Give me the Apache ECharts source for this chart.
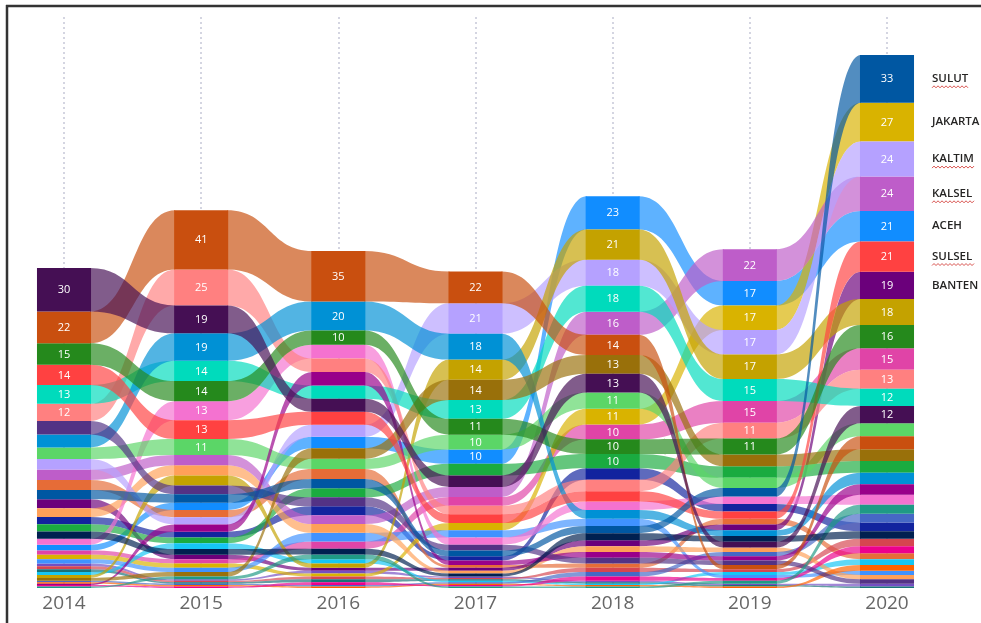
<!DOCTYPE html>
<html>
<head>
<meta charset="utf-8">
<script src="https://cdn.jsdelivr.net/npm/echarts@6/dist/echarts.min.js"></script>
<style>
  html, body { margin: 0; padding: 0; background: #fff; }
  #chart { width: 981px; height: 623px; }
</style>
</head>
<body>
<div id="chart"></div>
<script>
// ribbon chart: one column per year, provinces ranked inside each column
var years = ['2014', '2015', '2016', '2017', '2018', '2019', '2020'];

var provinces = ['ACEH', 'BABEL', 'BALI', 'BANTEN', 'BENGKULU', 'DIY', 'JAKARTA', 'GORONTALO', 'JABAR', 'JAMBI',
  'JATENG', 'JATIM', 'KALBAR', 'KALSEL', 'KALTENG', 'KALTIM', 'KALUT', 'KEPRI', 'LAMPUNG', 'MALUKU',
  'MALUT', 'NTB', 'NTT', 'PAPUA', 'PABAR', 'RIAU', 'SULBAR', 'SULSEL', 'SULTENG', 'SULTRA',
  'SULUT', 'SUMBAR', 'SUMSEL', 'SUMUT'];

var colors = ['#118DFF', '#12239E', '#E66C37', '#6B007B', '#E044A7', '#744EC2', '#D9B300', '#D64550', '#197278', '#1AAB40',
  '#15C6F4', '#4092FF', '#FFA058', '#BE5DC9', '#F472D0', '#B5A1FF', '#C4A200', '#FF8080', '#00DBBC', '#5BD667',
  '#0091D5', '#4668C5', '#FF6300', '#99008A', '#EC008C', '#533285', '#99700A', '#FF4141', '#1F9A85', '#25891C',
  '#0057A2', '#002050', '#C94F0F', '#450F54'];

// values per year, same order as provinces
var v2014 = [4, 5, 7, 6.2, 3, 2, 3, 2, 2, 5, 2, 3, 6, 7.2, 4.2, 7.4, 2, 12, 13, 8, 9, 1, 1, 1, 1, 9.2, 2, 14, 1, 15, 6.4, 5, 22, 30];
var v2015 = [5, 4, 5, 3, 3, 1, 3, 1, 1, 4, 4, 3, 7, 7.2, 13.2, 5, 7, 25, 14, 11, 19, 1, 1, 5, 1, 6, 3, 13, 2, 14, 6, 4, 41, 19.3];
var v2016 = [8, 6.2, 7, 2, 5, 2, 2, 2, 2, 6.3, 3, 6, 6.05, 6.1, 9.45, 8.2, 3, 9.4, 9.2, 7.1, 20, 1, 1, 9.3, 2, 6.25, 7.2, 9, 3.2, 10, 6.4, 4, 35, 9.1];
var v2017 = [10, 3, 2, 2, 6, 1, 5, 1, 1, 8, 1, 5, 2, 7, 5, 21, 14, 6, 13, 10.2, 18, 1, 1, 3, 1, 4, 14, 6, 1, 11, 4, 2, 22, 8];
var v2018 = [23, 8, 3, 4, 10.3, 1, 10.9, 3, 1, 9.9, 1, 5, 4, 16, 6, 18, 21, 8, 18, 11.2, 6, 3, 1, 4, 3, 4, 13, 7, 1, 10.1, 5, 5, 14, 13];
var v2019 = [17, 5.1, 4, 4, 15, 1, 17, 2, 1, 8, 2, 2, 3, 22, 5.2, 17, 17, 11, 15.2, 7, 4, 3, 1, 3, 2, 3, 8.2, 5, 2, 11, 6, 4, 3, 4];
var v2020 = [21, 6, 4, 19, 15, 2, 27, 5.1, 1, 8.1, 4, 3, 3, 23.9, 7, 24.2, 18, 13, 12, 9, 8, 6.1, 4, 7.2, 5, 3, 8.2, 21, 6.2, 16, 33, 5.2, 9, 12];

var values = [v2014, v2015, v2016, v2017, v2018, v2019, v2020];

var labelMin = 10;          // values shown inside bars from this size up
var sideLabelCount = 7;     // names written right of the last column
var spellMarked = ['SULUT', 'KALTIM', 'KALSEL', 'SULSEL'];
var BAR_FRAC = 0.394;       // bar width as part of the column step

// stack each year: largest on top
var hi = [], lo = [], totals = [];
values.forEach(function (vals, y) {
  var order = vals.map(function (v, i) { return i; })
    .sort(function (a, b) { return (vals[b] - vals[a]) || (a - b); });
  var total = vals.reduce(function (s, v) { return s + v; }, 0);
  var acc = total;
  hi[y] = []; lo[y] = [];
  order.forEach(function (i) {
    hi[y][i] = acc;
    acc -= vals[i];
    lo[y][i] = acc;
  });
  totals.push(total);
});

var last = values.length - 1;
var sideNames = values[last].map(function (v, i) { return i; })
  .sort(function (a, b) { return values[last][b] - values[last][a]; })
  .slice(0, sideLabelCount);

var maxTotal = Math.max.apply(null, totals);
var font = '"Segoe UI", "Open Sans", sans-serif';

function renderRibbons(params, api) {
  var c = api.value(2);
  var half = api.size([1, 0])[0] * BAR_FRAC / 2;
  var kids = [];
  for (var y = 0; y < years.length - 1; y++) {
    var a1 = api.coord([y, hi[y][c]]), b1 = api.coord([y, lo[y][c]]);
    var a2 = api.coord([y + 1, hi[y + 1][c]]), b2 = api.coord([y + 1, lo[y + 1][c]]);
    var x1 = a1[0] + half - 1, x2 = a2[0] - half + 1, xm = (x1 + x2) / 2;
    var d = 'M' + x1 + ' ' + a1[1] +
      ' C' + xm + ' ' + a1[1] + ' ' + xm + ' ' + a2[1] + ' ' + x2 + ' ' + a2[1] +
      ' L' + x2 + ' ' + b2[1] +
      ' C' + xm + ' ' + b2[1] + ' ' + xm + ' ' + b1[1] + ' ' + x1 + ' ' + b1[1] + ' Z';
    kids.push({
      type: 'path',
      shape: { pathData: d },
      style: { fill: colors[c], opacity: 0.68 }
    });
  }
  return { type: 'group', children: kids };
}

function renderBars(params, api) {
  var c = api.value(2);
  var half = api.size([1, 0])[0] * BAR_FRAC / 2;
  var kids = [];
  for (var y = 0; y < years.length; y++) {
    var top = api.coord([y, hi[y][c]]), bot = api.coord([y, lo[y][c]]);
    kids.push({
      type: 'rect',
      shape: { x: top[0] - half, y: top[1], width: half * 2, height: bot[1] - top[1] },
      style: { fill: colors[c] }
    });
    var v = Math.round(values[y][c]);
    if (v >= labelMin) {
      kids.push({
        type: 'text',
        style: {
          text: String(v), x: top[0], y: (top[1] + bot[1]) / 2 + 0.5,
          fill: '#fff', font: '11px ' + font, align: 'center', verticalAlign: 'middle'
        }
      });
    }
  }
  if (sideNames.indexOf(c) >= 0) {
    var t = api.coord([last, hi[last][c]]), b = api.coord([last, lo[last][c]]);
    var lx = t[0] + half + 18, ly = (t[1] + b[1]) / 2;
    kids.push({
      type: 'text',
      style: {
        text: provinces[c], x: lx, y: ly, fill: '#252423',
        font: '600 11.5px ' + font, align: 'left', verticalAlign: 'middle'
      }
    });
    if (spellMarked.indexOf(provinces[c]) >= 0) {
      var w = provinces[c].length * 7.3, pts = [];
      for (var k = 0; k <= w; k += 2) pts.push([lx + k, ly + 8 + ((k / 2) % 2 ? -1 : 1)]);
      kids.push({ type: 'polyline', shape: { points: pts }, style: { stroke: '#d9534f', lineWidth: 1, fill: null } });
    }
  }
  return { type: 'group', children: kids };
}

var chart = echarts.init(document.getElementById('chart'));

var catData = provinces.map(function (p, i) { return [0, 0, i]; });

var option = {
  backgroundColor: '#fff',
  animation: false,
  grid: { left: 64, right: 94, top: 17, bottom: 35 },
  xAxis: {
    type: 'category',
    data: years,
    boundaryGap: false,
    axisLine: { show: false },
    axisTick: { show: false },
    axisLabel: { color: '#666', fontSize: 19, fontFamily: font, margin: 6 },
    splitLine: { show: true, lineStyle: { color: '#c6c8d8', type: [2, 3], width: 1.5 } }
  },
  yAxis: {
    type: 'value',
    min: 0,
    max: maxTotal / (533 / 571),
    show: false
  },
  series: [
    {
      type: 'custom',
      name: 'ribbons',
      z: 2,
      silent: true,
      dimensions: ['x', 'y', 'cat'],
      encode: { x: 0, y: 1 },
      data: catData,
      renderItem: renderRibbons
    },
    {
      type: 'custom',
      name: 'bars',
      z: 3,
      silent: true,
      dimensions: ['x', 'y', 'cat'],
      encode: { x: 0, y: 1 },
      data: catData,
      renderItem: renderBars
    }
  ],
  graphic: [
    { type: 'line', shape: { x1: 7, y1: 5, x2: 7, y2: 623 }, style: { stroke: '#333', lineWidth: 2.5 } },
    { type: 'line', shape: { x1: 6, y1: 6, x2: 981, y2: 6 }, style: { stroke: '#333', lineWidth: 2.5 } }
  ]
};

chart.setOption(option);
</script>
</body>
</html>
